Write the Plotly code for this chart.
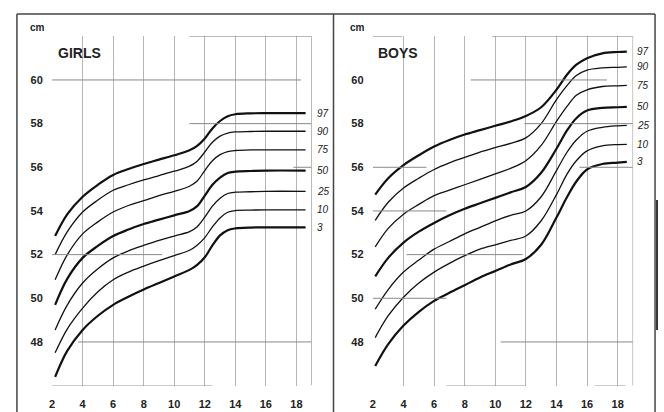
import plotly.graph_objects as go

percentiles = ["97", "90", "75", "50", "25", "10", "3"]

girls_age = [2.2, 3, 4, 5, 6, 7, 8, 9, 10, 11, 11.5, 12, 12.5, 13, 13.5, 14, 15, 16, 18.6]
girls = {
    "97": [52.85, 53.85, 54.65, 55.2, 55.65, 55.92, 56.15, 56.35, 56.55, 56.78, 56.98, 57.32, 57.78, 58.12, 58.34, 58.43, 58.47, 58.48, 58.48],
    "90": [52.0, 53.05, 53.95, 54.5, 54.95, 55.2, 55.42, 55.62, 55.82, 56.05, 56.28, 56.7, 57.15, 57.43, 57.57, 57.62, 57.64, 57.65, 57.65],
    "75": [50.85, 52.0, 52.95, 53.5, 53.95, 54.25, 54.47, 54.7, 54.9, 55.13, 55.37, 55.85, 56.3, 56.58, 56.72, 56.77, 56.8, 56.8, 56.8],
    "50": [49.7, 50.9, 51.85, 52.4, 52.85, 53.15, 53.4, 53.6, 53.8, 54.0, 54.22, 54.7, 55.2, 55.53, 55.74, 55.8, 55.83, 55.85, 55.85],
    "25": [48.55, 49.7, 50.7, 51.35, 51.85, 52.17, 52.42, 52.65, 52.85, 53.05, 53.28, 53.72, 54.22, 54.58, 54.8, 54.86, 54.88, 54.9, 54.9],
    "10": [47.5, 48.6, 49.55, 50.3, 50.85, 51.2, 51.47, 51.72, 51.95, 52.2, 52.43, 52.78, 53.27, 53.68, 53.94, 54.02, 54.04, 54.05, 54.05],
    "3":  [46.4, 47.6, 48.55, 49.2, 49.7, 50.07, 50.4, 50.7, 51.0, 51.3, 51.53, 51.88, 52.42, 52.88, 53.12, 53.2, 53.24, 53.25, 53.25],
}

boys_age = [2.15, 3, 4, 5, 6, 7, 8, 9, 10, 11, 12, 13, 14, 14.7, 15.3, 16, 17, 18, 18.6]
boys = {
    "97": [54.75, 55.5, 56.1, 56.55, 56.95, 57.25, 57.5, 57.7, 57.9, 58.1, 58.35, 58.75, 59.55, 60.25, 60.7, 61.0, 61.22, 61.28, 61.3],
    "90": [53.57, 54.4, 55.05, 55.5, 55.9, 56.2, 56.45, 56.7, 56.9, 57.1, 57.35, 58.0, 59.1, 59.75, 60.2, 60.45, 60.55, 60.58, 60.6],
    "75": [52.35, 53.2, 53.85, 54.3, 54.7, 54.95, 55.2, 55.45, 55.7, 55.95, 56.3, 57.0, 58.1, 58.8, 59.3, 59.55, 59.7, 59.73, 59.75],
    "50": [51.0, 51.85, 52.55, 53.05, 53.45, 53.8, 54.1, 54.35, 54.6, 54.85, 55.1, 55.75, 56.85, 57.7, 58.25, 58.6, 58.72, 58.75, 58.77],
    "25": [49.5, 50.4, 51.2, 51.75, 52.25, 52.6, 52.95, 53.25, 53.55, 53.8, 54.0, 54.65, 55.85, 56.7, 57.25, 57.65, 57.83, 57.9, 57.92],
    "10": [48.2, 49.2, 50.05, 50.7, 51.2, 51.6, 51.95, 52.25, 52.45, 52.65, 52.85, 53.55, 54.75, 55.7, 56.3, 56.75, 56.98, 57.04, 57.05],
    "3":  [46.9, 47.9, 48.75, 49.38, 49.88, 50.25, 50.6, 50.95, 51.25, 51.55, 51.8, 52.45, 53.7, 54.65, 55.35, 55.9, 56.15, 56.21, 56.25],
}

x_ticks = [2, 4, 6, 8, 10, 12, 14, 16, 18]
y_ticks = [48, 50, 52, 54, 56, 58, 60]

# partial reference lines of the printed chart grid: (from age, to age, cm)
girls_hlines = [(11, 19, 62), (2, 18.3, 60), (11, 19, 58), (17.8, 19, 56),
                (2, 9.2, 52), (3.7, 19, 48), (2, 12.5, 46)]
boys_hlines = [(2, 3.9, 62), (9.8, 19, 62), (8.4, 17.3, 60), (11.9, 19, 58),
               (2, 5.5, 56), (15.5, 19, 56), (2, 6.8, 54), (4.2, 11.8, 52),
               (2, 6.8, 50), (10.35, 19, 48), (6.8, 12, 46), (16.5, 18.5, 46)]

W, H = 664, 412
FONT = "Liberation Sans, Arial"
fig = go.Figure()

bold_set = {"97", "50", "3"}
for p in percentiles:
    fig.add_trace(go.Scatter(x=girls_age, y=girls[p], mode="lines", xaxis="x", yaxis="y",
                             line=dict(color="#111", width=2.2 if p in bold_set else 1.3,
                                       shape="spline", smoothing=1.0),
                             showlegend=False, hoverinfo="skip"))
    fig.add_trace(go.Scatter(x=boys_age, y=boys[p], mode="lines", xaxis="x2", yaxis="y2",
                             line=dict(color="#111", width=2.2 if p in bold_set else 1.3,
                                       shape="spline", smoothing=1.0),
                             showlegend=False, hoverinfo="skip"))

shapes = []
for (a, b, v) in girls_hlines:
    shapes.append(dict(type="line", xref="x", yref="y", x0=a, x1=b, y0=v, y1=v,
                       line=dict(color="#8a8a8a", width=1)))
for (a, b, v) in boys_hlines:
    shapes.append(dict(type="line", xref="x2", yref="y2", x0=a, x1=b, y0=v, y1=v,
                       line=dict(color="#8a8a8a", width=1)))
for xr, yr in (("x", "y"), ("x2", "y2")):
    shapes.append(dict(type="line", xref=xr, yref=yr, x0=19, x1=19, y0=46, y1=62,
                       line=dict(color="#aaa", width=1)))


def px(x):
    return x / W


def py(y):
    return 1 - y / H


frame = dict(color="#444", width=1.5)
shapes += [
    dict(type="line", xref="paper", yref="paper", x0=px(14), x1=px(655), y0=py(14), y1=py(14), line=frame),
    dict(type="line", xref="paper", yref="paper", x0=px(14), x1=px(14), y0=py(14), y1=py(412), line=frame),
    dict(type="line", xref="paper", yref="paper", x0=px(332), x1=px(332), y0=py(14), y1=py(412), line=frame),
    dict(type="line", xref="paper", yref="paper", x0=px(655), x1=px(655), y0=py(14), y1=py(412), line=frame),
    dict(type="line", xref="paper", yref="paper", x0=px(657), x1=px(657), y0=py(200), y1=py(330),
         line=dict(color="#333", width=2)),
]

ann = []
for p in percentiles:
    ann.append(dict(x=1.012, y=girls[p][-1], xref="x domain", yref="y", text=p, showarrow=False,
                    xanchor="left", yanchor="middle",
                    font=dict(family=FONT, size=10, color="#222", style="italic")))
    ann.append(dict(x=1.005, y=boys[p][-1], xref="x2 domain", yref="y2", text=p, showarrow=False,
                    xanchor="left", yanchor="middle",
                    font=dict(family=FONT, size=10, color="#222", style="italic")))
ann.append(dict(x=2.25, y=61.25, xref="x", yref="y", text="GIRLS", showarrow=False,
                xanchor="left", yanchor="middle",
                font=dict(family=FONT, size=14, color="#222", weight="bold")))
ann.append(dict(x=2.2, y=61.25, xref="x2", yref="y2", text="BOYS", showarrow=False,
                xanchor="left", yanchor="middle",
                font=dict(family=FONT, size=14, color="#222", weight="bold")))
ann.append(dict(x=px(25), y=py(28), xref="paper", yref="paper", text="cm", showarrow=False,
                xanchor="left", yanchor="middle",
                font=dict(family=FONT, size=10, color="#222", weight="bold")))
ann.append(dict(x=px(347), y=py(28), xref="paper", yref="paper", text="cm", showarrow=False,
                xanchor="left", yanchor="middle",
                font=dict(family=FONT, size=10, color="#222", weight="bold")))

tickfont = dict(family=FONT, size=11, color="#222", weight="bold")
xcommon = dict(range=[1.98, 19.02], tickvals=x_ticks, showgrid=True, gridcolor="#b5b5b5",
               gridwidth=1, zeroline=False, showline=False, ticks="", tickfont=tickfont,
               ticklabelstandoff=10, fixedrange=True)
ycommon = dict(range=[46, 62], tickvals=y_ticks, showgrid=False, zeroline=False,
               showline=False, ticks="", tickfont=tickfont, ticklabelstandoff=8, fixedrange=True)

fig.update_layout(
    width=W, height=H, margin=dict(l=0, r=0, t=0, b=0),
    paper_bgcolor="white", plot_bgcolor="white",
    xaxis=dict(domain=[49 / W, 310.4 / W], anchor="y", **xcommon),
    yaxis=dict(domain=[26.4 / H, 375.7 / H], anchor="x", **ycommon),
    xaxis2=dict(domain=[371.3 / W, 633.1 / W], anchor="y2", **xcommon),
    yaxis2=dict(domain=[26.4 / H, 375.7 / H], anchor="x2", **ycommon),
    shapes=shapes, annotations=ann,
)

fig.write_html("out.html", config={"displayModeBar": False},
               post_script="document.body.style.margin='0';document.body.style.padding='0';"
                           "document.body.style.overflow='hidden';")
